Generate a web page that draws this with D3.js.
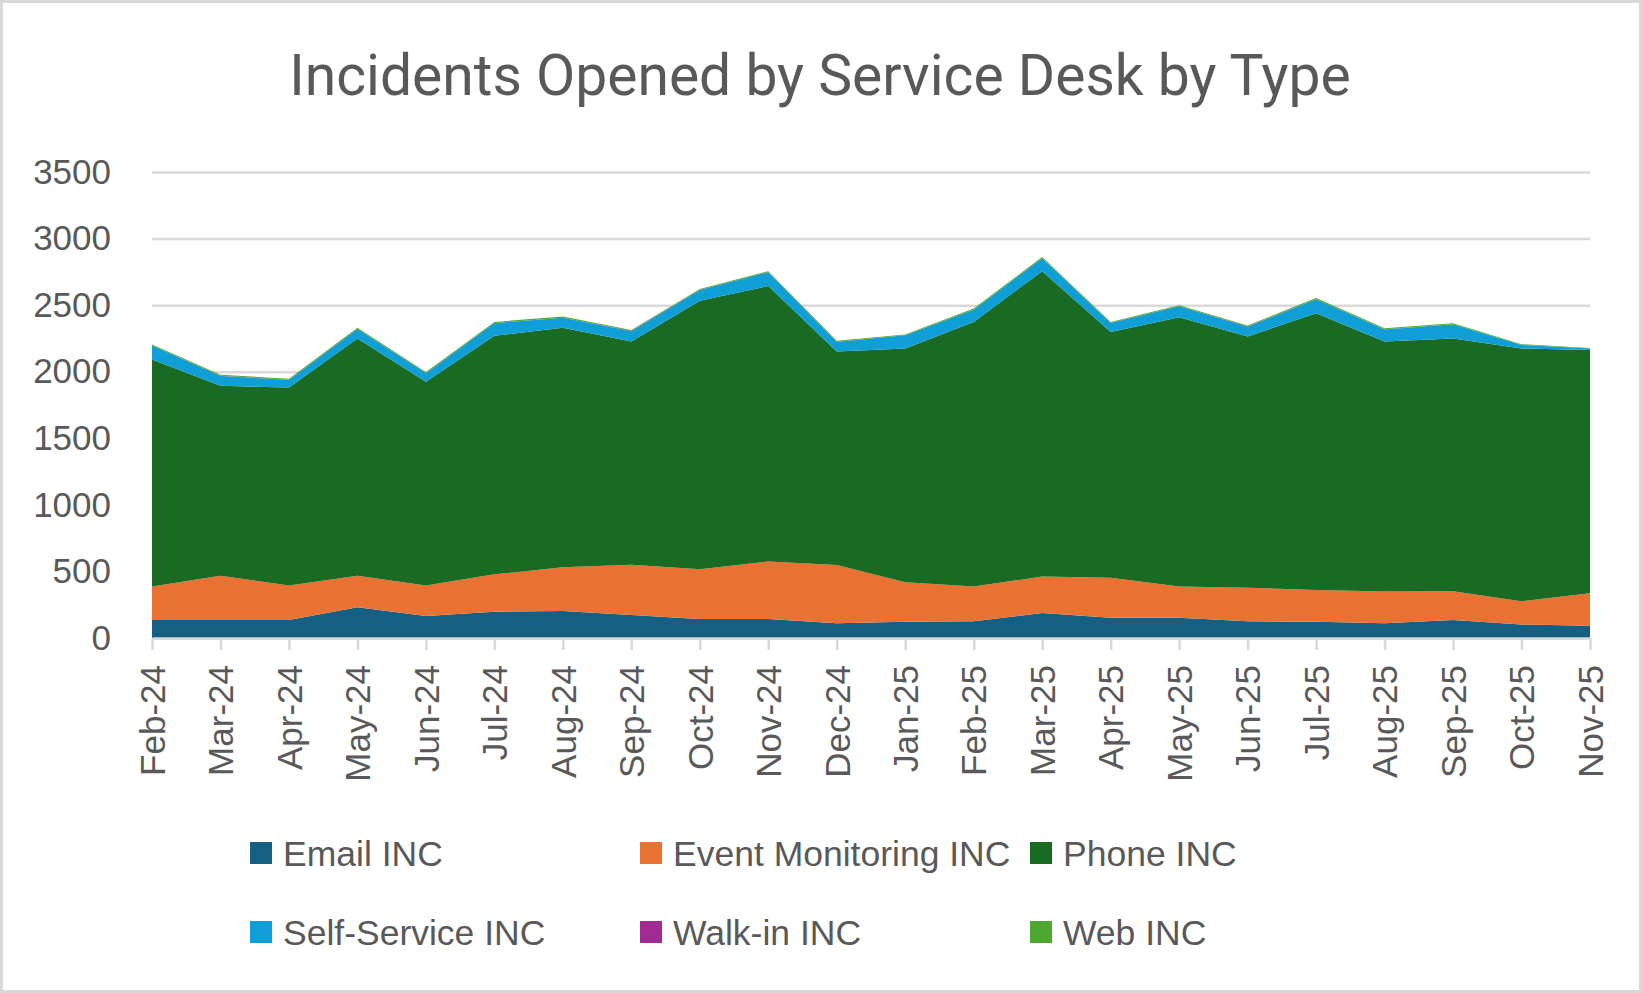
<!DOCTYPE html>
<html>
<head>
<meta charset="utf-8">
<script src="https://cdn.jsdelivr.net/npm/d3@7"></script>
<style>
  body { margin: 0; background: #fff; }
  svg { display: block; }
</style>
</head>
<body>
<script>
var w = 1642;
var h = 993;

// months on the x axis
var months = ["Feb-24","Mar-24","Apr-24","May-24","Jun-24","Jul-24","Aug-24","Sep-24","Oct-24","Nov-24","Dec-24",
              "Jan-25","Feb-25","Mar-25","Apr-25","May-25","Jun-25","Jul-25","Aug-25","Sep-25","Oct-25","Nov-25"];

// series values
var emailInc   = [135,135,135,231,165,198,203,173,142,142,110,122,125,188,152,152,125,122,110,135,102,92];
var eventInc   = [252,333,260,237,230,280,328,378,374,432,439,296,262,273,301,235,252,238,239,217,174,245];
var phoneInc   = [1704,1426,1486,1782,1529,1792,1800,1676,2017,2070,1602,1756,1987,2294,1845,2022,1888,2079,1878,1898,1898,1827];
var selfInc    = [105,74,56,71,65,95,74,77,80,103,73,99,92,98,68,82,73,105,91,107,27,10];
var walkinInc  = [1,2,3,1,1,1,1,3,2,1,1,0,0,0,1,1,3,1,1,0,0,0];
var webInc     = [8,7,7,8,7,8,8,6,6,7,7,7,8,8,7,8,7,8,7,7,6,5];

var seriesNames = ["Email INC","Event Monitoring INC","Phone INC","Self-Service INC","Walk-in INC","Web INC"];
var seriesValues = [emailInc, eventInc, phoneInc, selfInc, walkinInc, webInc];
var colors = ["#156082","#E97132","#196B24","#0F9ED5","#A02B93","#4EA72E"];
var yTicks = [0,500,1000,1500,2000,2500,3000,3500];

var textColor = "#595959";
var lineColor = "#d9d9d9";

// table for d3.stack
var table = months.map(function(m, i) {
    var row = {month: m};
    seriesNames.forEach(function(s, j) { row[s] = seriesValues[j][i]; });
    return row;
});

var stacked = d3.stack().keys(seriesNames)(table);

var plotLeft = 152, plotRight = 1590, plotTop = 172, plotBottom = 638;

var xScale = d3.scalePoint()
    .domain(months)
    .range([plotLeft, plotRight])
    .padding(0);

var yScale = d3.scaleLinear()
    .domain([0, 3500])
    .range([plotBottom, plotTop]);

var svg = d3.select("body")
    .append("svg")
    .attr("width", w)
    .attr("height", h);

// outer border
svg.append("rect")
    .attr("x", 1.5)
    .attr("y", 1.5)
    .attr("width", w - 3)
    .attr("height", h - 3)
    .attr("fill", "#fff")
    .attr("stroke", lineColor)
    .attr("stroke-width", 3);

// title
svg.append("text")
    .attr("x", 820)
    .attr("y", 95)
    .attr("text-anchor", "middle")
    .attr("font-family", "Roboto, 'Open Sans', sans-serif")
    .attr("font-size", "57px")
    .attr("fill", textColor)
    .text("Incidents Opened by Service Desk by Type");

// y axis with gridlines
var yAxis = d3.axisLeft(yScale)
    .tickValues(yTicks)
    .tickSizeInner(-(plotRight - plotLeft))
    .tickSizeOuter(0)
    .tickPadding(41)
    .tickFormat(d3.format("d"));

var yg = svg.append("g")
    .attr("transform", "translate(" + plotLeft + ",0)")
    .call(yAxis);
yg.select(".domain").remove();
yg.selectAll("line")
    .attr("stroke", lineColor)
    .attr("stroke-width", 2.5);
yg.selectAll("text")
    .attr("font-family", "'Liberation Sans', Arial, sans-serif")
    .attr("font-size", "35px")
    .attr("fill", textColor);

// stacked areas
var area = d3.area()
    .x(function(d) { return xScale(d.data.month); })
    .y0(function(d) { return yScale(d[0]); })
    .y1(function(d) { return yScale(d[1]); });

svg.append("g")
    .selectAll("path")
    .data(stacked)
    .enter()
    .append("path")
    .attr("d", area)
    .attr("fill", function(d, i) { return colors[i]; });

// x axis
var xAxis = d3.axisBottom(xScale)
    .tickSizeInner(12)
    .tickSizeOuter(0);

var xg = svg.append("g")
    .attr("transform", "translate(0," + plotBottom + ")")
    .call(xAxis);
xg.select(".domain")
    .attr("stroke", lineColor)
    .attr("stroke-width", 2.5);
xg.selectAll("line")
    .attr("stroke", lineColor)
    .attr("stroke-width", 2.5);
xg.selectAll("text")
    .attr("transform", "rotate(-90)")
    .attr("text-anchor", "end")
    .attr("x", -27)
    .attr("y", 0)
    .attr("dy", "0.35em")
    .attr("font-family", "'Liberation Sans', Arial, sans-serif")
    .attr("font-size", "35px")
    .attr("fill", textColor);

// legend, 3 columns x 2 rows
var legendX = [250, 640, 1030];
var legendY = [853, 932];

var legend = svg.append("g")
    .selectAll("g")
    .data(seriesNames)
    .enter()
    .append("g")
    .attr("transform", function(d, i) {
        return "translate(" + legendX[i % 3] + "," + legendY[Math.floor(i / 3)] + ")";
    });

legend.append("rect")
    .attr("x", 0)
    .attr("y", -11)
    .attr("width", 22)
    .attr("height", 22)
    .attr("fill", function(d, i) { return colors[i]; });

legend.append("text")
    .attr("x", 33)
    .attr("y", 0)
    .attr("dy", "0.36em")
    .attr("font-family", "'Liberation Sans', Arial, sans-serif")
    .attr("font-size", "35.5px")
    .attr("fill", textColor)
    .text(function(d) { return d; });
</script>
</body>
</html>
